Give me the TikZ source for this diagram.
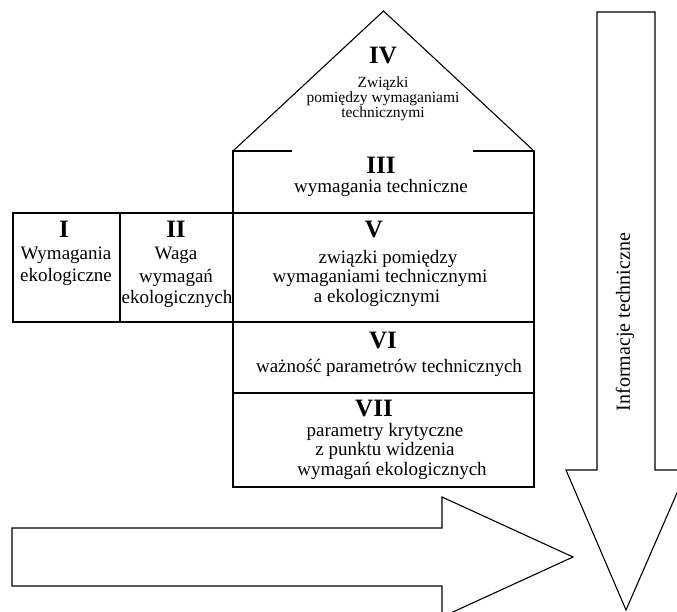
\documentclass[tikz,border=0pt]{standalone}
\usepackage{fontspec}
\setmainfont{Liberation Serif}
\usetikzlibrary{positioning}

\begin{document}
\begin{tikzpicture}[x=1pt, y=-1pt, line width=1.1pt]
      \tikzstyle{num} = [anchor=base, inner sep=0pt, font=\fontsize{25}{25}\selectfont\bfseries]
      \tikzstyle{txt} = [anchor=base, inner sep=0pt, font=\fontsize{19}{19}\selectfont]
      \tikzstyle{sml} = [anchor=base, inner sep=0pt, font=\fontsize{15.5}{15.5}\selectfont]
      \useasboundingbox (0,0) rectangle (677,612);
      \clip (0,0) rectangle (677,612);
      % dach i kolumna domu
      \draw (233,151) -- (383.5,11) -- (534,151);
      \draw (292,151) -- (233,151) -- (233,487) -- (534,487) -- (534,151) -- (473,151);
      \draw (233,213) -- (534,213) (233,322) -- (534,322) (233,393) -- (534,393);
      \draw (13,213) rectangle (233,322) (120,213) -- (120,322);
      % strzalki
      \draw (12,528) -- (442,528) -- (442,497) -- (573,557) -- (442,617) -- (442,586) -- (12,586) -- cycle;
      \draw (597,12) -- (655,12) -- (655,470) -- (687,470) -- (626,610) -- (566,470) -- (597,470) -- cycle;
      \begin{scope}
	\path
	node[num] (n4) at (383,64) {IV}
	node[sml] (t4a) at (383,88) {Związki}
	node[sml] (t4b) at (383,103) {pomiędzy wymaganiami}
	node[sml] (t4c) at (383,118) {technicznymi}
	node[num] (n3) at (381,174) {III}
	node[txt] (t3) at (381,193) {wymagania techniczne}
	node[num] (n1) at (64,238) {I}
	node[txt] (t1a) at (66,260) {Wymagania}
	node[txt] (t1b) at (66,282) {ekologiczne}
	node[num] (n2) at (176,238) {II}
	node[txt] (t2a) at (176,260) {Waga}
	node[txt] (t2b) at (176,283) {wymagań}
	node[txt] (t2c) at (177,303) {ekologicznych}
	node[num] (n5) at (374,238) {V}
	node[txt] (t5a) at (388,264) {związki pomiędzy}
	node[txt] (t5b) at (380,283) {wymaganiami technicznymi}
	node[txt] (t5c) at (377,302) {a ekologicznymi}
	node[num] (n6) at (383,348) {VI}
	node[txt] (t6) at (389,372) {ważność parametrów technicznych}
	node[num] (n7) at (374,416) {VII}
	node[txt] (t7a) at (385,436) {parametry krytyczne}
	node[txt] (t7b) at (385,455) {z punktu widzenia}
	node[txt] (t7c) at (392,475) {wymagań ekologicznych}
	node[rotate=90, inner sep=0pt, font=\fontsize{20}{20}\selectfont] (info) at (625,322) {Informacje techniczne}
	;
      \end{scope}
\end{tikzpicture}
\end{document}
